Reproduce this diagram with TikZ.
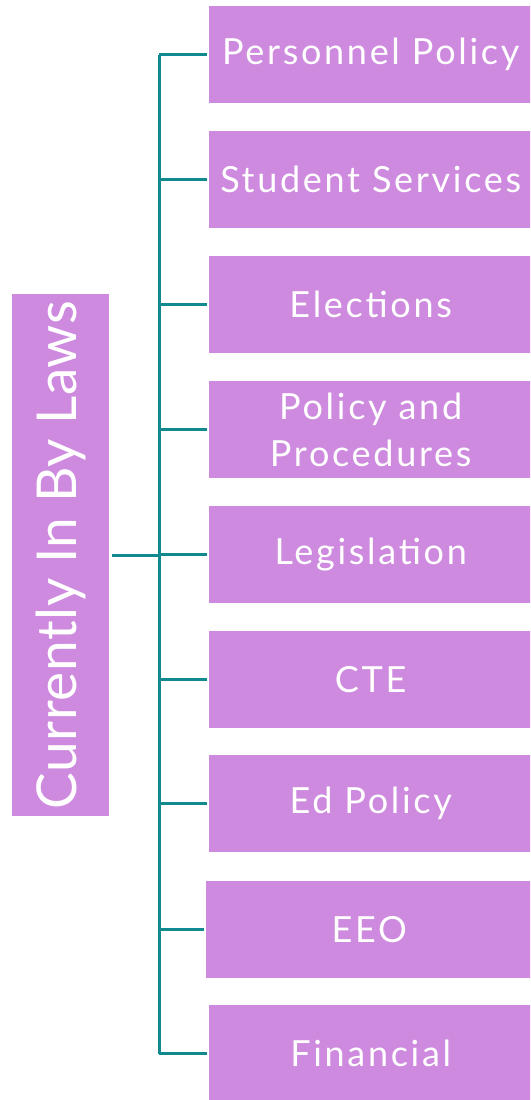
\documentclass[tikz,border=0pt]{standalone}
\usepackage{fontspec}
\setmainfont{Lato}
\newfontfamily\itemfont{Lato}[LetterSpace=7.5]
\newfontfamily\rootfont{Lato}[LetterSpace=1]
\definecolor{boxfill}{RGB}{206,138,222}
\definecolor{linecol}{RGB}{16,138,142}
\begin{document}
\begin{tikzpicture}[x=1pt,y=-1pt,
  itembox/.style={rectangle,fill=boxfill,draw=none,minimum width=323pt,minimum height=97pt,inner sep=0pt,
    text=white,font=\itemfont\fontsize{36}{47}\selectfont,align=center,anchor=west},
  rootbox/.style={rectangle,fill=boxfill,draw=none,minimum width=97pt,minimum height=522pt,inner sep=0pt,
    text=white,font=\rootfont\fontsize{55}{60}\selectfont},
  conn/.style={draw=linecol,line width=3pt}]
\useasboundingbox (0,0) rectangle (530,1100);
\begin{scope}
\clip (0,0) rectangle (530,1100);
\node[rootbox] (root) at (60.5,555) {\rotatebox{90}{Currently In By Laws}};
\node[itembox] (b1) at (209,54.5) {Personnel Policy};
\node[itembox] (b2) at (209,179.5) {Student Services};
\node[itembox] (b3) at (209,304.5) {Elections};
\node[itembox] (b4) at (209,429.5) {Policy and\\Procedures};
\node[itembox] (b5) at (209,554.5) {Legislation};
\node[itembox] (b6) at (209,679.5) {CTE};
\node[itembox] (b7) at (209,803.5) {Ed Policy};
\node[itembox, minimum width=326pt] (b8) at (206,929.5) {EEO};
\node[itembox] (b9) at (209,1053.5) {Financial};
\coordinate (top) at (159,54.5);
\coordinate (bot) at (159,1053.5);
\coordinate (mid) at (159,555);
\draw[conn] (top) -- (bot);
\draw[conn,shorten <=3pt] (root.east |- mid) -- (mid);
\foreach \i in {1,...,9} {
  \draw[conn,shorten >=2pt] (159,0 |- b\i.west) -- (b\i.west);
}
\end{scope}
\end{tikzpicture}
\end{document}
